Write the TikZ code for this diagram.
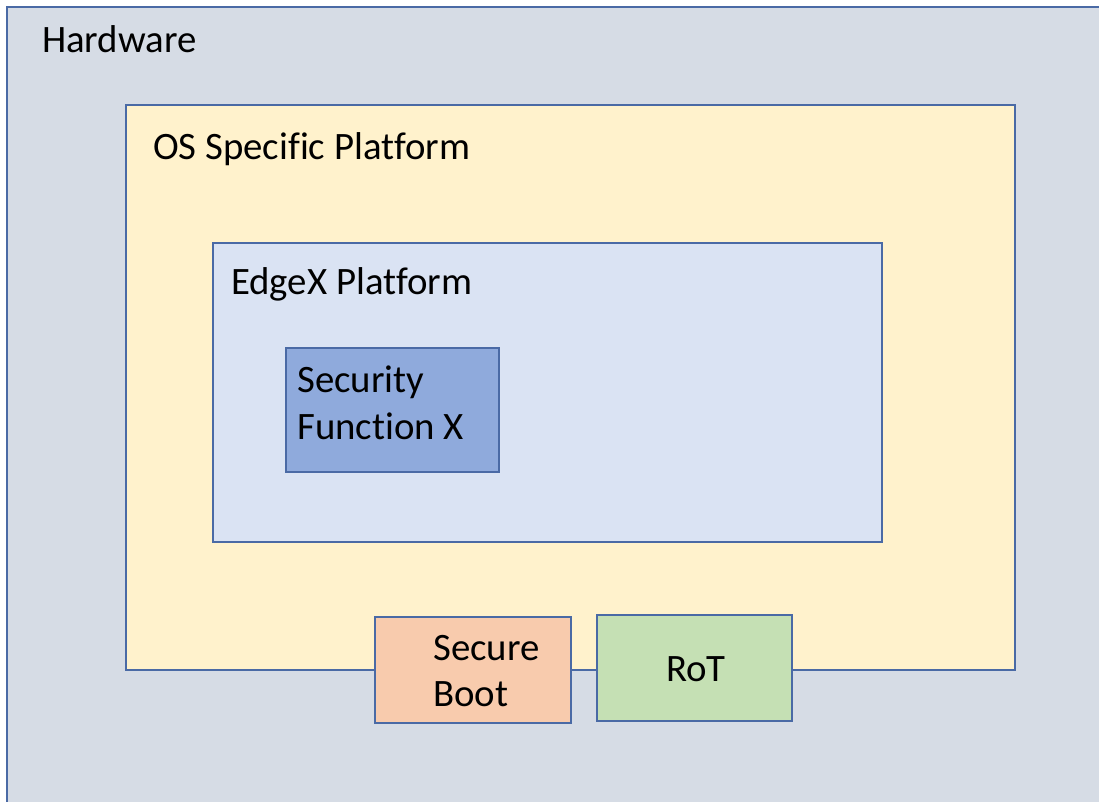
\documentclass[tikz,border=0pt]{standalone}
\usepackage{fontspec}
\setmainfont{Carlito}[Ligatures={NoCommon}]
\definecolor{hwfill}{HTML}{D6DCE5}
\definecolor{osfill}{HTML}{FFF2CC}
\definecolor{exfill}{HTML}{DAE3F3}
\definecolor{sffill}{HTML}{8FAADC}
\definecolor{sbfill}{HTML}{F8CBAD}
\definecolor{rotfill}{HTML}{C5E0B4}
\definecolor{edge}{HTML}{4A6AA5}
\tikzset{
  box/.style={draw=edge, line width=1.5pt, anchor=north west, inner sep=0pt, outer sep=0pt},
  lbl/.style={anchor=base west, inner sep=0pt, font=\fontsize{38.8}{47}\selectfont, text=black}
}
\begin{document}
\begin{tikzpicture}[x=1pt,y=-1pt]
\useasboundingbox (0,0) rectangle (1099,801);
\clip (0,0) rectangle (1099,801);
\fill[white] (0,0) rectangle (1099,801);
\node[box, fill=hwfill, minimum width=1120pt, minimum height=820pt] (hw) at (7,7) {};
\node[box, fill=osfill, minimum width=889pt, minimum height=565pt] (os) at (126,105) {};
\node[box, fill=exfill, minimum width=669pt, minimum height=299pt] (ex) at (213,243) {};
\node[box, fill=sffill, minimum width=213pt, minimum height=124pt] (sf) at (286,348) {};
\node[box, fill=sbfill, minimum width=196pt, minimum height=106pt] (sb) at (375,617) {};
\node[box, fill=rotfill, minimum width=195pt, minimum height=106pt] (rot) at (597,615) {};
\node[lbl] (hwt) at (42,52) {Hardware};
\node[lbl] (ost) at (153,159) {OS Specific Platform};
\node[lbl] (ext) at (231,294) {EdgeX Platform};
\node[lbl] (sft1) at (297,392) {Security};
\node[lbl] (sft2) at (297,439) {Function X};
\node[lbl] (sbt1) at (433,660) {Secure};
\node[lbl] (sbt2) at (433,706) {Boot};
\node[lbl] (rott) at (666,681) {RoT};
\end{tikzpicture}
\end{document}
